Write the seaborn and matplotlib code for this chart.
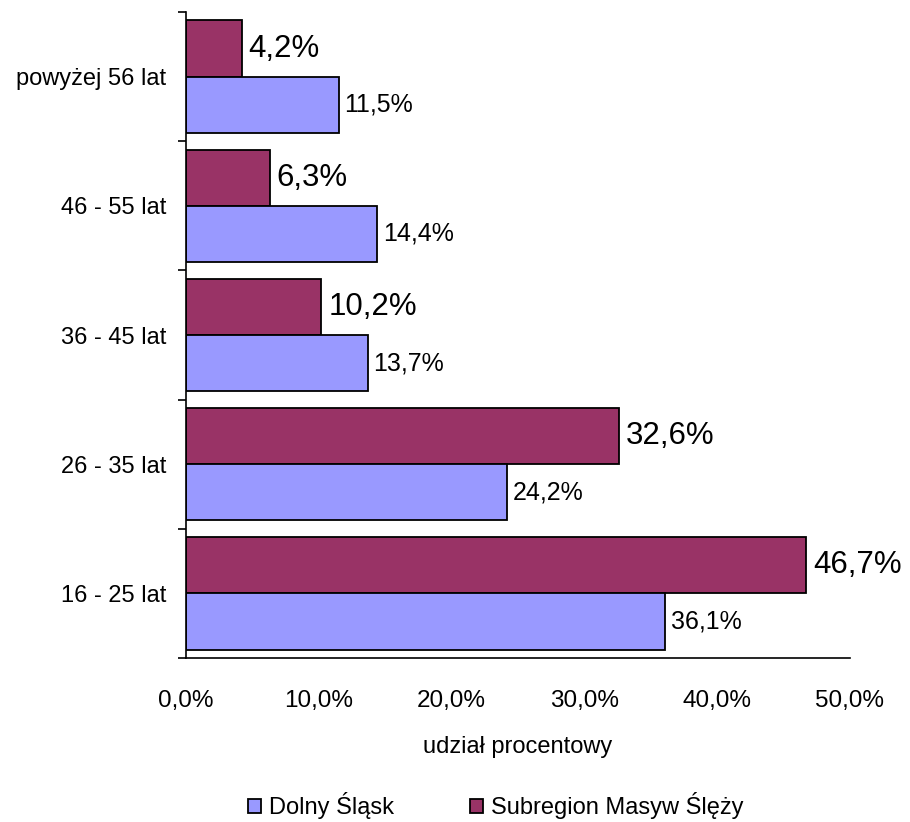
import matplotlib
matplotlib.use("Agg")
import matplotlib.pyplot as plt
import seaborn as sns
import pandas as pd
from matplotlib.patches import Patch
from matplotlib.ticker import FixedLocator

# data
groups = ["powyżej 56 lat", "46 - 55 lat", "36 - 45 lat", "26 - 35 lat", "16 - 25 lat"]
dolny = [11.5, 14.4, 13.7, 24.2, 36.1]
subregion = [4.2, 6.3, 10.2, 32.6, 46.7]
series = ["Subregion Masyw Ślęży", "Dolny Śląsk"]
colors = {"Subregion Masyw Ślęży": "#993366", "Dolny Śląsk": "#9999FF"}

df = pd.DataFrame({
    "grupa": groups * 2,
    "udzial": subregion + dolny,
    "seria": [series[0]] * len(groups) + [series[1]] * len(groups),
})

sns.set_style("white")
plt.rcParams["font.family"] = ["Liberation Sans", "DejaVu Sans"]
plt.rcParams["text.color"] = "black"
plt.rcParams["xtick.color"] = "black"
plt.rcParams["ytick.color"] = "black"
plt.rcParams["axes.labelcolor"] = "black"

fig = plt.figure(figsize=(9.1, 8.22), dpi=100)
ax = fig.add_axes([0.2044, 0.1995, 0.7296, 0.7859])

sns.barplot(data=df, y="grupa", x="udzial", hue="seria", order=groups,
            hue_order=series, palette=colors, orient="h", width=0.87,
            edgecolor="black", linewidth=1.3, saturation=1, ax=ax)

# labels on bars
for cont, s in zip(ax.containers, series):
    big = s == series[0]
    labels = [f"{v:.1f}%".replace(".", ",") for v in cont.datavalues]
    ax.bar_label(cont, labels=labels, padding=5 if big else 4,
                 fontsize=22.5 if big else 18, color="black")

ax.set_xlim(0, 50)
ax.set_ylim(len(groups) - 0.5, -0.5)
ax.set_xticks([0, 10, 20, 30, 40, 50])
ax.set_xticklabels([f"{t},0%" for t in [0, 10, 20, 30, 40, 50]], fontsize=17.5)
ax.tick_params(axis="x", direction="out", length=8, width=1.2, color="black", pad=15)
ax.tick_params(axis="y", which="major", length=0, labelsize=17, pad=14)
ax.yaxis.set_minor_locator(FixedLocator([i - 0.5 for i in range(len(groups) + 1)]))
ax.tick_params(axis="y", which="minor", direction="out", length=6, width=1.2, color="black", left=True)
ax.set_ylabel("")
ax.set_xlabel("udział procentowy", fontsize=17, labelpad=17)

for side in ["top", "right"]:
    ax.spines[side].set_visible(False)
for side in ["left", "bottom"]:
    ax.spines[side].set_color("black")
    ax.spines[side].set_linewidth(1.2)

ax.get_legend().remove()
handles = [Patch(facecolor=colors[s], edgecolor="black", linewidth=1.3, label=s)
           for s in [series[1], series[0]]]
fig.legend(handles=handles, loc="center", bbox_to_anchor=(0.545, 0.02), ncol=2,
           frameon=False, fontsize=17, handlelength=0.55, handleheight=0.55,
           handletextpad=0.35, columnspacing=3.2)

fig.savefig("out.png", dpi=100)
